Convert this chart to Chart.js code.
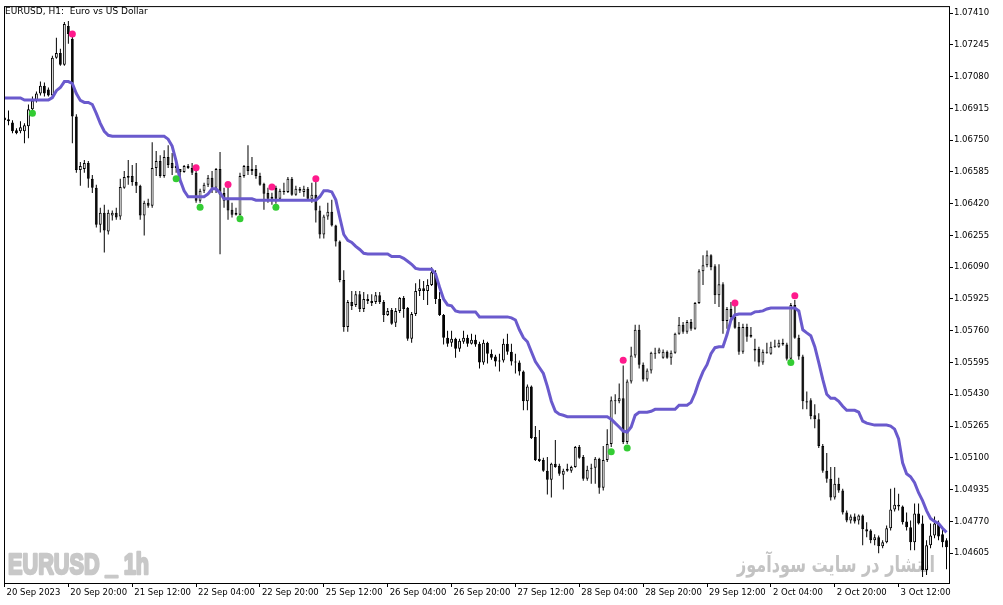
<!DOCTYPE html>
<html>
<head>
<meta charset="utf-8">
<title>EURUSD H1</title>
<script src="https://cdn.jsdelivr.net/npm/chart.js@4.4.0/dist/chart.umd.min.js"></script>
<style>
  html, body { margin: 0; padding: 0; background: #fff; }
  #wrap { width: 1003px; height: 605px; }
</style>
</head>
<body>
<div id="wrap"><canvas id="chart" width="1003" height="605"></canvas></div>
<script>
// EURUSD H1 candles, bar 0 = 20 Sep 2023 04:00
const opens = [
  1.06868,1.06858,1.06842,1.06801,1.06796,1.06796,1.06822,1.06910,1.06956,1.06992,
  1.07033,1.07013,1.06982,1.07178,1.07203,1.07142,1.07343,1.07276,1.06873,1.06595,
  1.06600,1.06631,1.06549,1.06502,1.06311,1.06373,1.06275,1.06358,1.06373,1.06353,
  1.06502,1.06564,1.06564,1.06533,1.06513,1.06358,1.06425,1.06409,1.06605,1.06641,
  1.06564,1.06662,1.06631,1.06605,1.06600,1.06585,1.06616,1.06605,1.06580,1.06435,
  1.06487,1.06518,1.06554,1.06502,1.06600,1.06476,1.06451,1.06389,1.06363,1.06363,
  1.06564,1.06616,1.06590,1.06600,1.06564,1.06523,1.06476,1.06445,1.06502,1.06445,
  1.06487,1.06481,1.06549,1.06466,1.06497,1.06481,1.06497,1.06445,1.06466,1.06384,
  1.06260,1.06353,1.06378,1.06306,1.06224,1.06023,1.05780,1.05909,1.05894,1.05950,
  1.05873,1.05925,1.05914,1.05909,1.05945,1.05909,1.05842,1.05868,1.05801,1.05863,
  1.05930,1.05878,1.05718,1.05847,1.05966,1.05981,1.05966,1.05997,1.06059,1.05925,
  1.05842,1.05724,1.05698,1.05718,1.05667,1.05703,1.05724,1.05693,1.05713,1.05693,
  1.05595,1.05698,1.05641,1.05626,1.05600,1.05605,1.05693,1.05651,1.05600,1.05595,
  1.05548,1.05394,1.05471,1.05208,1.05095,1.05089,1.05033,1.04986,1.05069,1.05059,
  1.05012,1.05033,1.05033,1.05053,1.05156,1.05105,1.04991,1.05048,1.05048,1.05095,
  1.04945,1.05089,1.05172,1.05399,1.05394,1.05409,1.05182,1.05497,1.05631,1.05765,
  1.05584,1.05507,1.05553,1.05646,1.05646,1.05620,1.05651,1.05620,1.05646,1.05744,
  1.05791,1.05755,1.05806,1.05770,1.05904,1.06069,1.06100,1.06152,1.06095,1.05945,
  1.06002,1.05811,1.05873,1.05832,1.05780,1.05651,1.05780,1.05729,1.05657,1.05667,
  1.05595,1.05646,1.05641,1.05677,1.05677,1.05698,1.05688,1.05615,1.05894,1.05724,
  1.05626,1.05394,1.05399,1.05321,1.05301,1.05162,1.05033,1.04991,1.04894,1.04966,
  1.04930,1.04816,1.04775,1.04795,1.04775,1.04801,1.04729,1.04723,1.04672,1.04687,
  1.04641,1.04661,1.04734,1.04832,1.04857,1.04847,1.04770,1.04739,1.04661,1.04811,
  1.04759,1.04517,1.04646,1.04697,1.04759,1.04703,1.04672
];
const highs = [
  1.06879,1.06904,1.06853,1.06811,1.06848,1.06837,1.06935,1.06977,1.07002,1.07054,
  1.07049,1.07023,1.07188,1.07281,1.07224,1.07363,1.07368,1.07286,1.06884,1.06636,
  1.06647,1.06641,1.06569,1.06518,1.06399,1.06415,1.06389,1.06384,1.06399,1.06549,
  1.06590,1.06647,1.06621,1.06631,1.06518,1.06435,1.06445,1.06739,1.06693,1.06672,
  1.06698,1.06724,1.06683,1.06657,1.06600,1.06621,1.06626,1.06631,1.06590,1.06497,
  1.06528,1.06569,1.06590,1.06605,1.06688,1.06502,1.06507,1.06425,1.06399,1.06580,
  1.06621,1.06724,1.06662,1.06621,1.06580,1.06528,1.06502,1.06477,1.06513,1.06497,
  1.06528,1.06559,1.06559,1.06513,1.06507,1.06513,1.06507,1.06528,1.06533,1.06409,
  1.06363,1.06425,1.06440,1.06311,1.06229,1.06074,1.05920,1.05966,1.05966,1.05966,
  1.05961,1.05950,1.05950,1.05961,1.05961,1.05920,1.05878,1.05878,1.05878,1.05935,
  1.05940,1.05883,1.05858,1.06007,1.06028,1.06018,1.06028,1.06090,1.06074,1.05961,
  1.05847,1.05760,1.05760,1.05724,1.05718,1.05760,1.05739,1.05744,1.05739,1.05703,
  1.05713,1.05703,1.05662,1.05636,1.05641,1.05718,1.05744,1.05693,1.05641,1.05605,
  1.05553,1.05481,1.05476,1.05265,1.05244,1.05100,1.05105,1.05074,1.05193,1.05069,
  1.05043,1.05069,1.05059,1.05162,1.05167,1.05115,1.05059,1.05069,1.05105,1.05100,
  1.05162,1.05249,1.05419,1.05430,1.05486,1.05579,1.05507,1.05677,1.05791,1.05791,
  1.05595,1.05564,1.05651,1.05672,1.05672,1.05662,1.05657,1.05657,1.05749,1.05832,
  1.05806,1.05816,1.05821,1.05909,1.06079,1.06152,1.06177,1.06157,1.06105,1.06105,
  1.06012,1.05883,1.05909,1.05889,1.05806,1.05796,1.05796,1.05780,1.05718,1.05677,
  1.05662,1.05698,1.05703,1.05713,1.05713,1.05718,1.05698,1.05904,1.05920,1.05739,
  1.05636,1.05445,1.05409,1.05378,1.05332,1.05172,1.05125,1.05053,1.05053,1.04997,
  1.04940,1.04826,1.04806,1.04811,1.04806,1.04806,1.04765,1.04729,1.04703,1.04697,
  1.04672,1.04749,1.04940,1.04945,1.04914,1.04852,1.04816,1.04775,1.04863,1.04863,
  1.04801,1.04672,1.04759,1.04795,1.04775,1.04734,1.04682
];
const lows = [
  1.06842,1.06827,1.06786,1.06781,1.06786,1.06734,1.06760,1.06899,1.06946,1.06982,
  1.06977,1.06977,1.06977,1.07172,1.07136,1.07136,1.07250,1.06734,1.06580,1.06513,
  1.06580,1.06502,1.06476,1.06296,1.06270,1.06167,1.06260,1.06332,1.06337,1.06337,
  1.06497,1.06518,1.06513,1.06476,1.06337,1.06255,1.06399,1.06399,1.06564,1.06554,
  1.06554,1.06605,1.06569,1.06580,1.06528,1.06580,1.06600,1.06569,1.06425,1.06425,
  1.06476,1.06507,1.06476,1.06476,1.06157,1.06399,1.06337,1.06348,1.06358,1.06358,
  1.06554,1.06569,1.06569,1.06549,1.06513,1.06389,1.06425,1.06415,1.06420,1.06435,
  1.06466,1.06476,1.06461,1.06461,1.06476,1.06456,1.06440,1.06425,1.06322,1.06239,
  1.06239,1.06337,1.06301,1.06198,1.06012,1.05755,1.05755,1.05868,1.05883,1.05858,
  1.05858,1.05899,1.05889,1.05899,1.05899,1.05806,1.05837,1.05791,1.05780,1.05852,
  1.05827,1.05708,1.05698,1.05837,1.05940,1.05920,1.05894,1.05992,1.05899,1.05837,
  1.05688,1.05677,1.05677,1.05620,1.05651,1.05693,1.05677,1.05688,1.05677,1.05564,
  1.05584,1.05590,1.05610,1.05574,1.05548,1.05595,1.05636,1.05579,1.05538,1.05528,
  1.05347,1.05347,1.05198,1.05084,1.05079,1.05028,1.04909,1.04894,1.05048,1.05007,
  1.04935,1.05028,1.05022,1.05048,1.05095,1.04981,1.04981,1.04966,1.04966,1.04914,
  1.04930,1.05079,1.05156,1.05327,1.05383,1.05172,1.05172,1.05486,1.05620,1.05564,
  1.05497,1.05497,1.05538,1.05615,1.05641,1.05615,1.05615,1.05584,1.05641,1.05739,
  1.05744,1.05744,1.05760,1.05765,1.05899,1.05997,1.06090,1.06074,1.05899,1.05883,
  1.05744,1.05770,1.05816,1.05770,1.05636,1.05641,1.05703,1.05724,1.05600,1.05574,
  1.05584,1.05641,1.05636,1.05672,1.05672,1.05682,1.05605,1.05610,1.05718,1.05610,
  1.05352,1.05352,1.05301,1.05254,1.05151,1.05022,1.04971,1.04878,1.04883,1.04919,
  1.04806,1.04765,1.04759,1.04759,1.04754,1.04646,1.04687,1.04656,1.04646,1.04605,
  1.04630,1.04656,1.04723,1.04821,1.04826,1.04754,1.04723,1.04620,1.04620,1.04754,
  1.04481,1.04491,1.04630,1.04682,1.04672,1.04636,1.04522
];
const closes = [
  1.06853,1.06848,1.06796,1.06786,1.06817,1.06827,1.06910,1.06956,1.06992,1.07033,
  1.06992,1.06982,1.07178,1.07203,1.07142,1.07353,1.07301,1.06873,1.06595,1.06616,
  1.06631,1.06549,1.06502,1.06311,1.06373,1.06280,1.06373,1.06373,1.06348,1.06507,
  1.06559,1.06554,1.06533,1.06513,1.06358,1.06425,1.06409,1.06605,1.06641,1.06564,
  1.06662,1.06621,1.06605,1.06616,1.06585,1.06616,1.06605,1.06580,1.06435,1.06487,
  1.06518,1.06554,1.06502,1.06600,1.06466,1.06435,1.06384,1.06363,1.06373,1.06564,
  1.06616,1.06590,1.06600,1.06564,1.06518,1.06471,1.06445,1.06456,1.06445,1.06487,
  1.06481,1.06549,1.06466,1.06497,1.06487,1.06497,1.06445,1.06466,1.06384,1.06260,
  1.06353,1.06378,1.06306,1.06224,1.06023,1.05780,1.05909,1.05889,1.05950,1.05873,
  1.05925,1.05914,1.05904,1.05945,1.05909,1.05842,1.05863,1.05796,1.05863,1.05930,
  1.05873,1.05718,1.05847,1.05966,1.05981,1.05966,1.05997,1.06064,1.05925,1.05842,
  1.05724,1.05693,1.05718,1.05667,1.05708,1.05724,1.05693,1.05713,1.05688,1.05595,
  1.05698,1.05641,1.05620,1.05600,1.05605,1.05693,1.05651,1.05600,1.05595,1.05548,
  1.05394,1.05471,1.05203,1.05089,1.05084,1.05033,1.04986,1.05069,1.05053,1.05017,
  1.05033,1.05043,1.05053,1.05156,1.05100,1.04991,1.05038,1.05043,1.05095,1.04945,
  1.05089,1.05172,1.05399,1.05394,1.05409,1.05182,1.05497,1.05631,1.05765,1.05584,
  1.05507,1.05553,1.05646,1.05641,1.05662,1.05651,1.05620,1.05646,1.05744,1.05791,
  1.05755,1.05806,1.05770,1.05904,1.06069,1.06100,1.06152,1.06090,1.05945,1.06002,
  1.05811,1.05873,1.05832,1.05775,1.05651,1.05780,1.05729,1.05739,1.05667,1.05595,
  1.05651,1.05651,1.05677,1.05682,1.05698,1.05688,1.05615,1.05894,1.05724,1.05626,
  1.05394,1.05388,1.05316,1.05301,1.05162,1.05033,1.04991,1.04894,1.04966,1.04930,
  1.04816,1.04775,1.04795,1.04770,1.04801,1.04729,1.04718,1.04672,1.04687,1.04641,
  1.04661,1.04734,1.04832,1.04857,1.04847,1.04765,1.04739,1.04661,1.04811,1.04759,
  1.04517,1.04646,1.04697,1.04759,1.04692,1.04661,1.04636
];
// trailing indicator line (purple)
const trailLine = [
  1.06969,1.06969,1.06969,1.06969,1.06969,1.06958,1.06958,1.06958,1.06958,1.06958,
  1.06958,1.06958,1.06971,1.07007,1.07023,1.07054,1.07054,1.07044,1.06992,1.06956,
  1.06946,1.06946,1.06935,1.06889,1.06837,1.06796,1.06775,1.06770,1.06770,1.06770,
  1.06770,1.06770,1.06770,1.06770,1.06770,1.06770,1.06770,1.06770,1.06770,1.06770,
  1.06770,1.06755,1.06719,1.06641,1.06543,1.06487,1.06456,1.06456,1.06456,1.06456,
  1.06456,1.06471,1.06497,1.06497,1.06476,1.06445,1.06445,1.06445,1.06445,1.06445,
  1.06445,1.06445,1.06445,1.06438,1.06438,1.06438,1.06438,1.06438,1.06438,1.06438,
  1.06438,1.06438,1.06438,1.06438,1.06438,1.06438,1.06438,1.06438,1.06438,1.06456,
  1.06487,1.06487,1.06481,1.06440,1.06348,1.06260,1.06229,1.06219,1.06198,1.06182,
  1.06162,1.06159,1.06159,1.06159,1.06159,1.06159,1.06159,1.06146,1.06146,1.06146,
  1.06136,1.06121,1.06105,1.06084,1.06079,1.06079,1.06079,1.06079,1.06054,1.05986,
  1.05925,1.05894,1.05889,1.05863,1.05858,1.05858,1.05858,1.05858,1.05858,1.05832,
  1.05832,1.05832,1.05832,1.05832,1.05832,1.05832,1.05832,1.05827,1.05816,1.05765,
  1.05724,1.05703,1.05651,1.05600,1.05569,1.05538,1.05471,1.05394,1.05342,1.05327,
  1.05321,1.05314,1.05314,1.05314,1.05314,1.05314,1.05314,1.05314,1.05314,1.05314,
  1.05314,1.05314,1.05301,1.05280,1.05260,1.05239,1.05234,1.05260,1.05321,1.05337,
  1.05337,1.05337,1.05342,1.05352,1.05352,1.05352,1.05352,1.05352,1.05352,1.05373,
  1.05373,1.05373,1.05388,1.05435,1.05497,1.05548,1.05584,1.05641,1.05672,1.05677,
  1.05677,1.05739,1.05816,1.05842,1.05847,1.05847,1.05847,1.05847,1.05858,1.05860,
  1.05863,1.05873,1.05878,1.05878,1.05878,1.05878,1.05878,1.05878,1.05878,1.05863,
  1.05765,1.05749,1.05734,1.05677,1.05595,1.05507,1.05430,1.05409,1.05409,1.05394,
  1.05368,1.05347,1.05347,1.05347,1.05337,1.05291,1.05280,1.05275,1.05270,1.05270,
  1.05270,1.05270,1.05265,1.05249,1.05198,1.05074,1.05017,1.05002,1.04971,1.04919,
  1.04878,1.04826,1.04785,1.04770,1.04759,1.04734,1.04713
];
// signal dots
const sellBars = [17, 48, 56, 67, 78, 155, 183, 198];
const sellPrices = [1.07301, 1.06607, 1.06519, 1.06507, 1.06550, 1.05607, 1.05904, 1.05942];
const buyBars = [7, 43, 49, 59, 68, 152, 156, 197];
const buyPrices = [1.06889, 1.06549, 1.06401, 1.06342, 1.06401, 1.05132, 1.05151, 1.05595];

// a time label every 16 bars
const timeLabels = ['20 Sep 2023', '20 Sep 20:00', '21 Sep 12:00', '22 Sep 04:00', '22 Sep 20:00',
  '25 Sep 12:00', '26 Sep 04:00', '26 Sep 20:00', '27 Sep 12:00', '28 Sep 04:00', '28 Sep 20:00',
  '29 Sep 12:00', '2 Oct 04:00', '2 Oct 20:00', '3 Oct 12:00'];
const priceTicks = [1.04605, 1.04770, 1.04935, 1.05100, 1.05265, 1.05430, 1.05595, 1.05760, 1.05925,
  1.06090, 1.06255, 1.06420, 1.06585, 1.06750, 1.06915, 1.07080, 1.07245, 1.07410];

const bodyColors = opens.map((o, i) => closes[i] >= o ? '#ffffff' : '#000000');
const axisFont = { family: '"DejaVu Sans", sans-serif', size: 8.5 };

const chartDecor = {
  id: 'chartDecor',
  beforeDatasetsDraw(chart) {
    const ctx = chart.ctx;
    // watermark bottom left
    ctx.save();
    ctx.fillStyle = '#c8c8c8';
    ctx.strokeStyle = '#c8c8c8';
    ctx.lineWidth = 2.5;
    ctx.lineJoin = 'round';
    ctx.font = 'bold 30px "Liberation Sans", sans-serif';
    ctx.textBaseline = 'alphabetic';
    const wm = 'EURUSD _ 1h';
    const w1 = ctx.measureText(wm).width;
    ctx.translate(8, 574);
    ctx.scale(141 / w1, 1);
    ctx.strokeText(wm, 0, 0);
    ctx.fillText(wm, 0, 0);
    ctx.restore();
    // persian note bottom right
    ctx.save();
    ctx.fillStyle = '#c3c3c3';
    ctx.font = 'bold 22px "DejaVu Sans", sans-serif';
    ctx.textBaseline = 'alphabetic';
    ctx.textAlign = 'right';
    const fa = 'انتشار در سایت سودآموز';
    const w2 = ctx.measureText(fa).width;
    ctx.translate(935, 572);
    ctx.scale(198 / w2, 1);
    ctx.fillText(fa, 0, 0);
    ctx.restore();
  },
  afterDraw(chart) {
    const ctx = chart.ctx;
    const a = chart.chartArea;
    ctx.save();
    ctx.strokeStyle = '#000';
    ctx.lineWidth = 1;
    ctx.strokeRect(a.left + 0.5, a.top + 0.5, a.right - a.left, a.bottom - a.top);
    ctx.fillStyle = '#000';
    ctx.font = '9px "DejaVu Sans", sans-serif';
    ctx.textBaseline = 'alphabetic';
    ctx.fillText('EURUSD, H1:  Euro vs US Dollar', 5, 14);
    ctx.restore();
  }
};

new Chart(document.getElementById('chart'), {
  type: 'bar',
  data: {
    datasets: [
      {
        label: 'wick',
        data: lows.map((l, i) => ({ x: i, y: [l, highs[i]] })),
        backgroundColor: '#000000',
        borderWidth: 0,
        grouped: false,
        maxBarThickness: 1,
        inflateAmount: 0,
        order: 4
      },
      {
        label: 'body',
        data: opens.map((o, i) => ({ x: i, y: [o, closes[i]] })),
        backgroundColor: bodyColors,
        borderColor: '#000000',
        borderWidth: 1,
        borderSkipped: false,
        grouped: false,
        maxBarThickness: 3,
        minBarLength: 1,
        inflateAmount: 0,
        order: 3
      },
      {
        type: 'line',
        label: 'trail',
        data: trailLine.map((v, i) => ({ x: i, y: v })),
        borderColor: '#6a5acd',
        borderWidth: 3,
        pointRadius: 0,
        tension: 0,
        order: 2
      },
      {
        type: 'line',
        label: 'sell',
        data: sellBars.map((b, k) => ({ x: b, y: sellPrices[k] })),
        showLine: false,
        pointRadius: 3.5,
        pointBorderWidth: 0,
        pointBackgroundColor: '#ff1a8c',
        order: 1
      },
      {
        type: 'line',
        label: 'buy',
        data: buyBars.map((b, k) => ({ x: b, y: buyPrices[k] })),
        showLine: false,
        pointRadius: 3.5,
        pointBorderWidth: 0,
        pointBackgroundColor: '#33cc33',
        order: 1
      }
    ]
  },
  options: {
    responsive: false,
    animation: false,
    events: [],
    layout: { padding: { left: 2, top: 2, right: 0, bottom: 0 } },
    plugins: { legend: { display: false }, tooltip: { enabled: false } },
    scales: {
      x: {
        type: 'linear',
        offset: false,
        min: -0.125,
        max: 236.625,
        afterBuildTicks: s => { s.ticks = timeLabels.map((_, k) => ({ value: k * 16 })); },
        afterFit: s => { s.height = 22; },
        grid: { drawOnChartArea: false, tickLength: 4, tickColor: '#000', offset: false },
        border: { display: false },
        ticks: {
          autoSkip: false, maxRotation: 0, align: 'start', labelOffset: 2, padding: 1,
          color: '#000', font: axisFont,
          callback: v => timeLabels[Math.round(v / 16)]
        }
      },
      y: {
        type: 'linear',
        position: 'right',
        min: 1.04450,
        max: 1.07446,
        afterBuildTicks: s => { s.ticks = priceTicks.map(v => ({ value: v })); },
        afterFit: s => { s.width = 54; },
        grid: { drawOnChartArea: false, tickLength: 4, tickColor: '#000' },
        border: { display: false },
        ticks: { padding: 1, color: '#000', font: axisFont, callback: v => v.toFixed(5) }
      }
    }
  },
  plugins: [chartDecor]
});
</script>
</body>
</html>
